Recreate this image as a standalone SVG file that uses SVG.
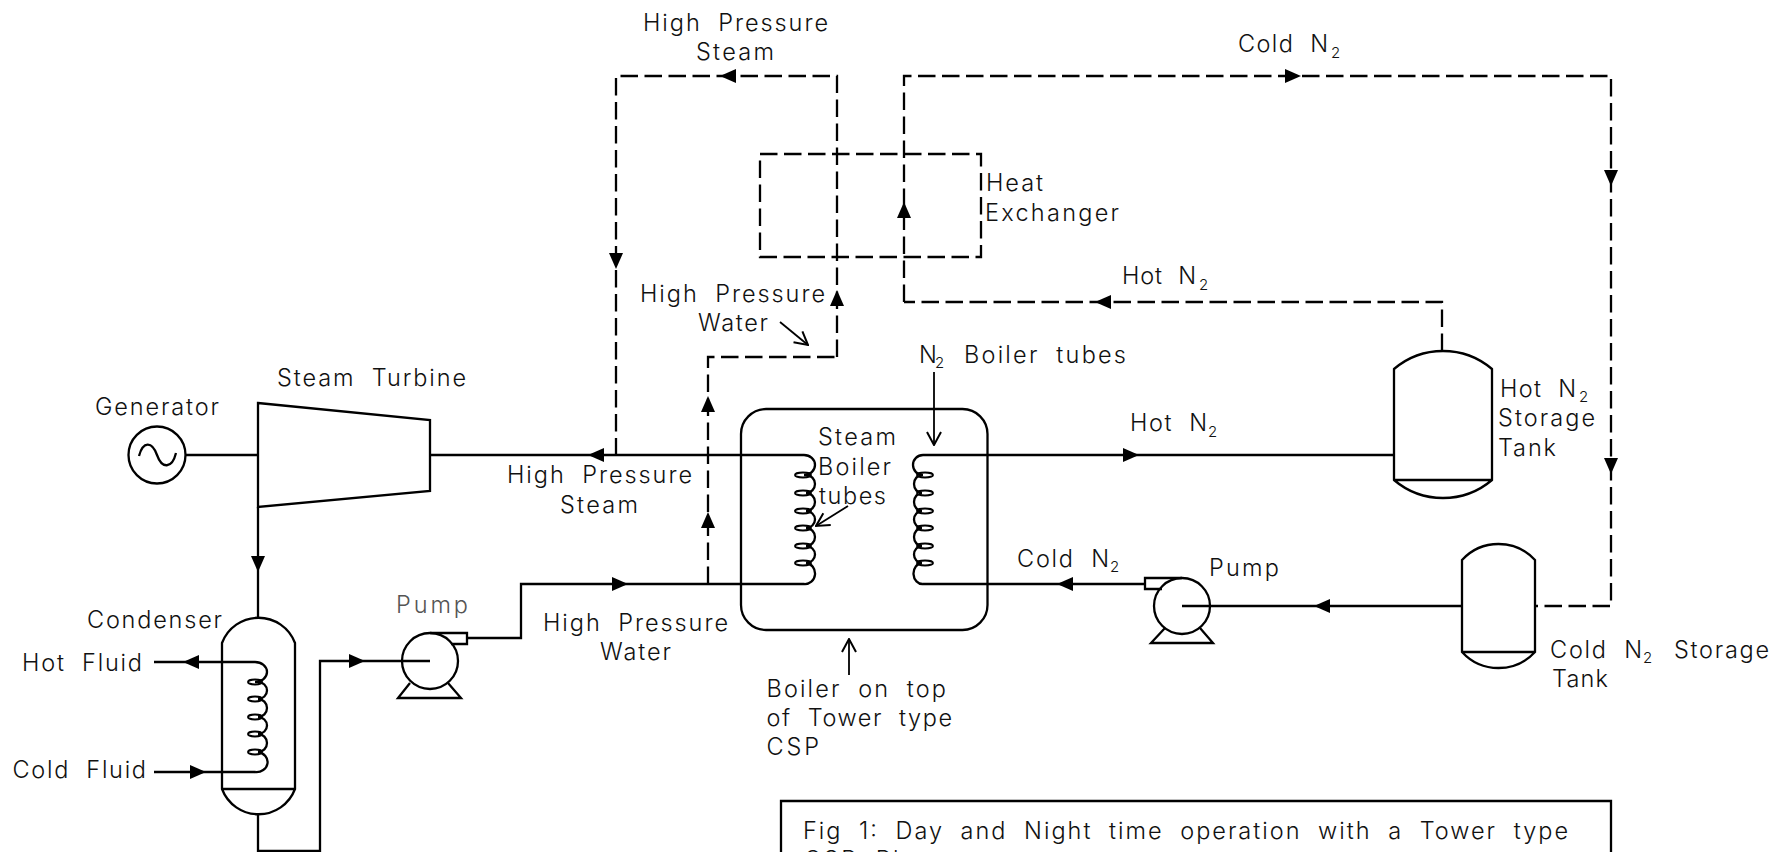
<svg xmlns="http://www.w3.org/2000/svg" width="1779" height="852" viewBox="0 0 1779 852">
<style>
.l{fill:none;stroke:#000;stroke-width:2.3;stroke-linejoin:miter}
.d{fill:none;stroke:#000;stroke-width:2.3;stroke-dasharray:17.5 6.500}
.f{fill:none;stroke:#000;stroke-width:1.8}
.c{fill:none;stroke:#000;stroke-width:1.9}
.t{font-family:Inter,"Liberation Sans",sans-serif;font-weight:300;font-size:23.5px;word-spacing:8px;fill:#111}
.g{fill:#555}
.s{font-size:15px}
</style>
<defs>
<path id="a" d="M-16 -7L0 0L-16 7Z" fill="#000"/>
<marker id="o" viewBox="-15 -9 16 18" markerWidth="16" markerHeight="18" refX="0" refY="0" orient="auto" markerUnits="userSpaceOnUse"><path d="M-13 -7L0 0L-13 7" fill="none" stroke="#000" stroke-width="2"/></marker>
</defs>
<rect width="1779" height="852" fill="#fff"/>
<g id="connectors">
<path class="l" d="M186 455H258"/>
<path class="l" d="M430 455H804"/>
<path class="l" d="M258 507V618"/>
<path class="l" d="M258 814V851H320V661H430"/>
<path class="l" d="M467 638H521V584H804"/>
<path class="l" d="M923 455H1394"/>
<path class="l" d="M923 584H1145"/>
<path class="l" d="M1182 606H1462"/>
<path class="l" d="M154 662H255"/>
<path class="l" d="M154 772H255"/>
<path class="d" d="M837 357V76H616V455"/>
<path class="d" d="M708 584V357H837"/>
<path class="d" d="M904 302V76H1611V606H1535"/>
<path class="d" d="M1442 351V302H904"/>
<path class="f" marker-end="url(#o)" d="M848 506L816 526"/>
<path class="f" marker-end="url(#o)" d="M934 372V445"/>
<path class="f" marker-end="url(#o)" d="M849 675V639"/>
<path class="f" marker-end="url(#o)" d="M780 322L808 345"/>
<use href="#a" transform="translate(258 572) rotate(90)"/>
<use href="#a" transform="translate(365 661)"/>
<use href="#a" transform="translate(183 662) rotate(180)"/>
<use href="#a" transform="translate(206 772)"/>
<use href="#a" transform="translate(588 455) rotate(180)"/>
<use href="#a" transform="translate(628 584)"/>
<use href="#a" transform="translate(720 76) rotate(180)"/>
<use href="#a" transform="translate(616 269) rotate(90)"/>
<use href="#a" transform="translate(837 290) rotate(-90)"/>
<use href="#a" transform="translate(708 396) rotate(-90)"/>
<use href="#a" transform="translate(708 512) rotate(-90)"/>
<use href="#a" transform="translate(904 202) rotate(-90)"/>
<use href="#a" transform="translate(1301 76)"/>
<use href="#a" transform="translate(1611 186) rotate(90)"/>
<use href="#a" transform="translate(1611 474) rotate(90)"/>
<use href="#a" transform="translate(1095 302) rotate(180)"/>
<use href="#a" transform="translate(1139 455)"/>
<use href="#a" transform="translate(1057 584) rotate(180)"/>
<use href="#a" transform="translate(1314 606) rotate(180)"/>
</g>
<g id="generator">
<circle class="l" cx="157" cy="455" r="28.5"/>
<path class="l" d="M139 456C143 441 152 441 157 455C162 469 172 469 176 453"/>
<text class="t" x="95" y="415" textLength="124">Generator</text>
</g>
<g id="turbine">
<path class="l" d="M258 403L430 420V491L258 507Z"/>
<text class="t" x="277" y="386" textLength="189">Steam Turbine</text>
</g>
<g id="condenser">
<path class="l" d="M222 643A39 39 0 0 1 295 643V789A39 39 0 0 1 222 789ZM222 789H295"/>
<path class="l" d="M255 662A12 10 0 0 1 255 682M258 682A9 8.500 0 0 1 258 699M258 699A9 9 0 0 1 258 717M258 717A9 8.500 0 0 1 258 734M258 734A9 9 0 0 1 258 752M258 752A11 10 0 0 1 255 772"/>
<g class="c"><ellipse cx="255" cy="682" rx="7" ry="2.500"/><ellipse cx="255" cy="699" rx="7" ry="2.500"/><ellipse cx="255" cy="717" rx="7" ry="2.500"/><ellipse cx="255" cy="734" rx="7" ry="2.500"/><ellipse cx="255" cy="752" rx="7" ry="2.500"/></g>
<text class="t" x="87" y="628" textLength="135">Condenser</text>
<text class="t" x="22" y="671" textLength="120">Hot Fluid</text>
<text class="t" x="12.500" y="778" textLength="133.500">Cold Fluid</text>
</g>
<g id="pump-1">
<ellipse class="l" cx="430" cy="661" rx="28" ry="28"/>
<path class="l" d="M430 633H467V644H451"/>
<path class="l" d="M410 683L398 698H461L448 683"/>
<text class="t g" x="396" y="613" textLength="72">Pump</text>
</g>
<g id="heat-exchanger">
<rect class="d" x="760" y="154" width="221" height="103"/>
<text class="t" x="986" y="191" textLength="57">Heat</text>
<text class="t" x="985" y="221" textLength="134">Exchanger</text>
</g>
<g id="boiler">
<rect class="l" x="741" y="409" width="246.500" height="221" rx="25" ry="25"/>
<path class="l" d="M804 455A11 10 0 0 1 804 475M806 475A9 9 0 0 1 806 493M806 493A9 9 0 0 1 806 511M806 511A9 8.500 0 0 1 806 528M806 528A9 9 0 0 1 806 546M806 546A9 8.500 0 0 1 806 563M806 563A10 10.500 0 0 1 804 584"/>
<g class="c"><ellipse cx="803" cy="475" rx="8" ry="2.500"/><ellipse cx="803" cy="493" rx="8" ry="2.500"/><ellipse cx="803" cy="511" rx="8" ry="2.500"/><ellipse cx="803" cy="528" rx="8" ry="2.500"/><ellipse cx="803" cy="546" rx="8" ry="2.500"/><ellipse cx="803" cy="563" rx="8" ry="2.500"/></g>
<path class="l" d="M923 455A10 10 0 0 0 923 475M922 475A8 9 0 0 0 922 493M922 493A8 9 0 0 0 922 511M922 511A8 8.500 0 0 0 922 528M922 528A8 9 0 0 0 922 546M922 546A8 8.500 0 0 0 922 563M922 563A9 10.500 0 0 0 923 584"/>
<g class="c"><ellipse cx="925" cy="475" rx="8" ry="2.500"/><ellipse cx="925" cy="493" rx="8" ry="2.500"/><ellipse cx="925" cy="511" rx="8" ry="2.500"/><ellipse cx="925" cy="528" rx="8" ry="2.500"/><ellipse cx="925" cy="546" rx="8" ry="2.500"/><ellipse cx="925" cy="563" rx="8" ry="2.500"/></g>
<text class="t" x="818" y="445" textLength="78">Steam</text>
<text class="t" x="818" y="475" textLength="73">Boiler</text>
<text class="t" x="819" y="504" textLength="67">tubes</text>
<text class="t" x="766.500" y="697" textLength="179.500">Boiler on top</text>
<text class="t" x="766.500" y="726" textLength="185.500">of Tower type</text>
<text class="t" x="766.500" y="755" textLength="52.500">CSP</text>
<text class="t" x="919" y="363">N<tspan class="s" x="935" y="368">2 </tspan><tspan x="964" y="363" textLength="162">Boiler tubes</tspan></text>
</g>
<g id="hot-tank">
<path class="l" d="M1394 369A75.700 75.700 0 0 1 1492 369V480A75.700 75.700 0 0 1 1394 480ZM1394 480H1492"/>
<text class="t" x="1500" y="397"><tspan textLength="76">Hot N</tspan><tspan class="s" x="1579" y="402">2</tspan></text>
<text class="t" x="1498" y="426" textLength="97">Storage</text>
<text class="t" x="1498" y="456" textLength="58">Tank</text>
</g>
<g id="cold-tank">
<path class="l" d="M1462 560A49.600 49.600 0 0 1 1535 560V652A49.600 49.600 0 0 1 1462 652ZM1462 652H1535"/>
<text class="t" x="1550" y="658"><tspan textLength="92">Cold N</tspan><tspan class="s" x="1643" y="663">2 </tspan><tspan x="1674" y="658" textLength="95">Storage</tspan></text>
<text class="t" x="1552" y="687" textLength="56">Tank</text>
</g>
<g id="pump-2">
<ellipse class="l" cx="1182" cy="606" rx="28" ry="28"/>
<path class="l" d="M1182 578H1145V589H1162"/>
<path class="l" d="M1165 628L1151 643H1213L1200 628"/>
<text class="t" x="1209" y="576" textLength="70">Pump</text>
</g>
<g id="labels">
<text class="t" x="643" y="31" textLength="185">High Pressure</text>
<text class="t" x="696" y="60" textLength="78">Steam</text>
<text class="t" x="640" y="302" textLength="185">High Pressure</text>
<text class="t" x="698" y="331" textLength="70">Water</text>
<text class="t" x="507" y="483" textLength="185">High Pressure</text>
<text class="t" x="560" y="513" textLength="78">Steam</text>
<text class="t" x="543" y="631" textLength="185">High Pressure</text>
<text class="t" x="600" y="660" textLength="71">Water</text>
<text class="t" x="1238" y="52"><tspan textLength="90">Cold N</tspan><tspan class="s" x="1331" y="58">2</tspan></text>
<text class="t" x="1122" y="284"><tspan textLength="74">Hot N</tspan><tspan class="s" x="1199" y="290">2</tspan></text>
<text class="t" x="1130" y="431"><tspan textLength="77">Hot N</tspan><tspan class="s" x="1208" y="437">2</tspan></text>
<text class="t" x="1017" y="567"><tspan textLength="92">Cold N</tspan><tspan class="s" x="1110" y="572">2</tspan></text>
</g>
<g id="caption">
<path class="l" d="M781 852V801H1611V852"/>
<text class="t" x="803" y="839" textLength="765">Fig 1: Day and Night time operation with a Tower type</text>
<text class="t" x="804" y="868" textLength="136">CSP Plant</text>
</g>
</svg>
